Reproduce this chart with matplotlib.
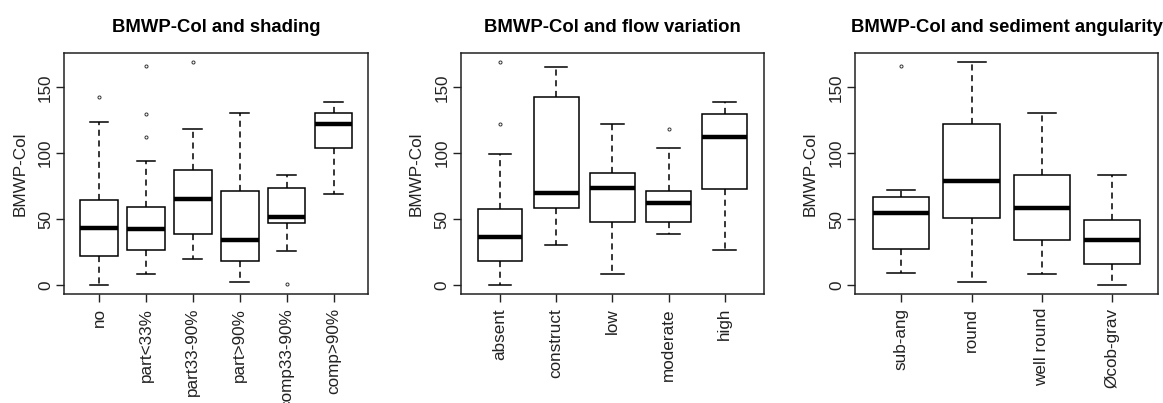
import matplotlib
matplotlib.use("Agg")
import matplotlib.pyplot as plt

plt.rcParams["font.family"] = ["Liberation Sans", "DejaVu Sans"]

# panel 1: shading
shade_cats = ["no", "part<33%", "part33-90%", "part>90%", "comp33-90%", "comp>90%"]
shade_lo = [0, 8, 20, 2.5, 25.5, 69]
shade_q1 = [22, 26.5, 39, 18.5, 47, 104]
shade_med = [43.5, 42.5, 65.5, 34.5, 51.5, 122.5]
shade_q3 = [64.5, 59, 87, 71.5, 73.5, 130.5]
shade_hi = [123.5, 94, 118, 130.5, 83.5, 138.5]
shade_out = [[142.5], [112.5, 129.5, 166], [169], [], [0.5], []]

# panel 2: flow variation
flow_cats = ["absent", "construct", "low", "moderate", "high"]
flow_lo = [0, 30, 8.5, 39, 26.5]
flow_q1 = [18.5, 58.5, 48, 48, 72.5]
flow_med = [36.5, 69.5, 73.5, 62, 112.5]
flow_q3 = [57.5, 142.5, 85, 71.5, 129.5]
flow_hi = [99.5, 165.5, 122.5, 104, 138.5]
flow_out = [[122, 169], [], [], [118], []]

# panel 3: sediment angularity
sed_cats = ["sub-ang", "round", "well round", "Øcob-grav"]
sed_lo = [9.5, 2.5, 8, 0]
sed_q1 = [27.5, 50.5, 34, 16]
sed_med = [54.5, 79, 58.5, 34.5]
sed_q3 = [67, 122.5, 83.5, 49.5]
sed_hi = [72, 169, 130.5, 83.5]
sed_out = [[166], [], [], []]

W, H = 1163, 403


def px_axes(left, right, top=53.3, bottom=294):
    return [left / W, 1 - bottom / H, (right - left) / W, (bottom - top) / H]


def draw_panel(ax, title, cats, lo, q1, med, q3, hi, out):
    stats = []
    for i, c in enumerate(cats):
        stats.append({"label": c, "whislo": lo[i], "q1": q1[i], "med": med[i],
                      "q3": q3[i], "whishi": hi[i], "fliers": out[i]})
    ax.bxp(stats, widths=0.8, patch_artist=True, showfliers=True,
           boxprops=dict(facecolor="white", edgecolor="black", linewidth=1.1),
           medianprops=dict(color="black", linewidth=3.2, solid_capstyle="butt"),
           whiskerprops=dict(color="black", linewidth=1.1, linestyle=(0, (4, 3))),
           capprops=dict(color="black", linewidth=1.1),
           capwidths=0.4,
           flierprops=dict(marker="o", markersize=2.2, markerfacecolor="none",
                           markeredgecolor="#333333", markeredgewidth=0.7))
    n = len(cats)
    ax.set_xlim(0.5 - 0.04 * n, n + 0.5 + 0.04 * n)
    ax.set_ylim(-6.8, 175.8)
    ax.set_yticks([0, 50, 100, 150])
    ax.set_yticklabels(["0", "50", "100", "150"], rotation=90, va="center")
    ax.set_xticks(range(1, n + 1))
    ax.set_xticklabels(cats, rotation=90)
    ax.tick_params(axis="both", length=6, width=1, labelsize=12.3,
                   color="#222222", labelcolor="#222222")
    ax.tick_params(axis="y", pad=2)
    ax.tick_params(axis="x", pad=4)
    for s in ax.spines.values():
        s.set_linewidth(1.1)
        s.set_color("#222222")
    ax.set_ylabel("BMWP-Col", fontsize=12.3, color="#222222")
    ax.yaxis.set_label_coords(-0.122, 0.5)
    ax.set_title(title, fontsize=13.3, fontweight="bold", pad=15)


fig = plt.figure(figsize=(W / 100, H / 100), dpi=100)
ax1 = fig.add_axes(px_axes(64.3, 368.3))
ax2 = fig.add_axes(px_axes(460.7, 764))
ax3 = fig.add_axes(px_axes(855, 1158.3))

draw_panel(ax1, "BMWP-Col and shading", shade_cats, shade_lo, shade_q1,
           shade_med, shade_q3, shade_hi, shade_out)
draw_panel(ax2, "BMWP-Col and flow variation", flow_cats, flow_lo, flow_q1,
           flow_med, flow_q3, flow_hi, flow_out)
draw_panel(ax3, "BMWP-Col and sediment angularity", sed_cats, sed_lo, sed_q1,
           sed_med, sed_q3, sed_hi, sed_out)

fig.savefig("out.png", dpi=100, facecolor="white")
